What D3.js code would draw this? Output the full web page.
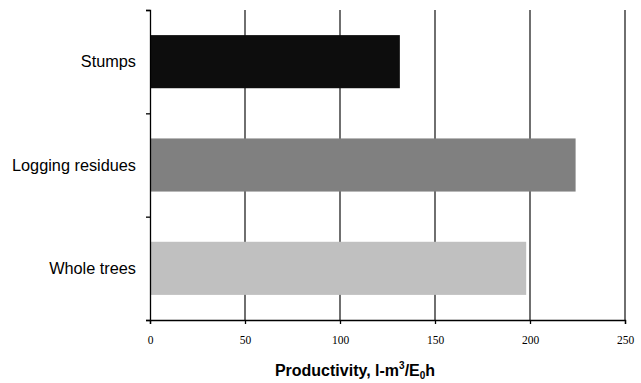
<!DOCTYPE html>
<html>
<head>
<meta charset="utf-8">
<script src="https://cdn.jsdelivr.net/npm/d3@7"></script>
<style>
  body { margin: 0; background: #fff; }
</style>
</head>
<body>
<script>
let width = 641;
let height = 383;

// data
let categories = ["Stumps", "Logging residues", "Whole trees"];
let productivity = [131.5, 224, 198];
let barColors = ["#0d0d0d", "#808080", "#c0c0c0"];
let xTicks = [0, 50, 100, 150, 200, 250];

let svg = d3.select("body")
            .append("svg")
            .attr("width", width)
            .attr("height", height);

let plotLeft = 150, plotRight = 625, plotTop = 10, plotBottom = 320;

let x = d3.scaleLinear()
    .domain([0, 250])
    .range([plotLeft, plotRight]);

let y = d3.scaleBand()
    .domain(categories)
    .range([plotTop, plotBottom])
    .paddingInner(0.486)
    .paddingOuter(0.243);

// vertical grid lines
svg.append("g")
    .selectAll("line")
    .data(xTicks.slice(1))
    .join("line")
    .attr("x1", d => x(d))
    .attr("x2", d => x(d))
    .attr("y1", plotTop)
    .attr("y2", plotBottom)
    .style("stroke", "#222")
    .style("stroke-width", 1.3);

// bars
svg.append("g")
    .selectAll("rect")
    .data(categories)
    .join("rect")
    .attr("x", x(0))
    .attr("y", d => y(d))
    .attr("width", (d, i) => x(productivity[i]) - x(0))
    .attr("height", y.bandwidth())
    .style("fill", (d, i) => barColors[i]);

// x axis
let xAxis = svg.append("g")
    .attr("transform", `translate(0,${plotBottom})`)
    .call(d3.axisBottom(x).tickValues(xTicks).tickSize(4).tickPadding(12));
xAxis.select(".domain").attr("stroke", "#000").attr("stroke-width", 1.3);
xAxis.selectAll(".tick line").attr("stroke", "#000").attr("stroke-width", 1.3);
xAxis.selectAll(".tick text")
    .style("font-family", "'Liberation Serif', 'Times New Roman', serif")
    .style("font-size", "11.5px")
    .attr("fill", "#000");

// y axis: ticks between categories
let yEdges = d3.scaleLinear().domain([0, categories.length]).range([plotTop, plotBottom]);
let yAxis = svg.append("g")
    .attr("transform", `translate(${plotLeft},0)`)
    .call(d3.axisLeft(yEdges).tickValues(d3.range(categories.length + 1)).tickSize(4).tickFormat(""));
yAxis.select(".domain").attr("stroke", "#000").attr("stroke-width", 1.3);
yAxis.selectAll(".tick line").attr("stroke", "#000").attr("stroke-width", 1.3);

// category labels
svg.append("g")
    .selectAll("text")
    .data(categories)
    .join("text")
    .attr("x", 136)
    .attr("y", d => y(d) + y.bandwidth() / 2)
    .attr("dy", "0.35em")
    .attr("text-anchor", "end")
    .style("font-family", "'Liberation Sans', Arial, sans-serif")
    .style("font-size", "16.3px")
    .text(d => d);

// axis title
let title = svg.append("text")
    .attr("x", 355)
    .attr("y", 376)
    .attr("text-anchor", "middle")
    .style("font-family", "'Liberation Sans', Arial, sans-serif")
    .style("font-size", "16px")
    .style("font-weight", "bold");
title.append("tspan").text("Productivity, l-m");
title.append("tspan").attr("dy", -7).style("font-size", "10px").text("3");
title.append("tspan").attr("dy", 7).text("/E");
title.append("tspan").attr("dy", 3).style("font-size", "10px").text("0");
title.append("tspan").attr("dy", -3).text("h");
</script>
</body>
</html>
